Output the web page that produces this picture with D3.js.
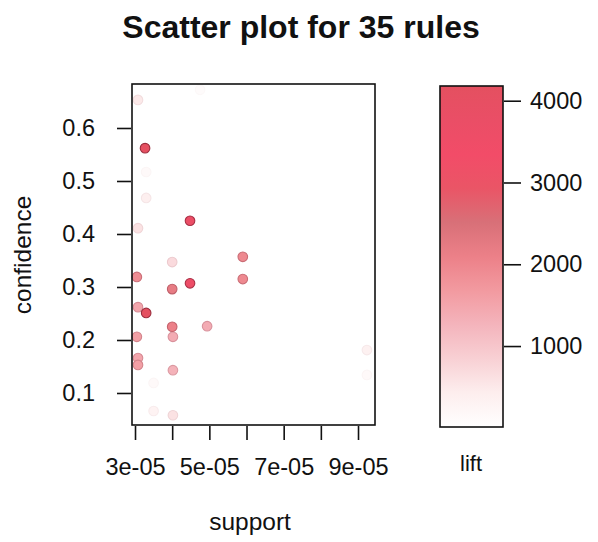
<!DOCTYPE html>
<html>
<head>
<meta charset="utf-8">
<script src="https://cdn.jsdelivr.net/npm/d3@7"></script>
<style>
  html, body { margin: 0; padding: 0; background: #fff; }
  svg { display: block; font-family: "Liberation Sans", Arial, sans-serif; }
</style>
</head>
<body>
<svg id="chart" width="598" height="542"></svg>
<script>
// Rules: support, confidence and lift of each of the 35 rules
const support = [
  3.08e-5, 4.75e-5, 3.27e-5, 3.30e-5, 3.30e-5, 3.08e-5, 4.48e-5, 5.90e-5, 4.00e-5,
  3.05e-5, 5.90e-5, 4.48e-5, 4.00e-5, 3.08e-5, 3.30e-5, 4.00e-5, 4.94e-5, 4.02e-5,
  3.05e-5, 3.08e-5, 3.08e-5, 4.02e-5, 3.50e-5, 3.50e-5, 4.02e-5, 9.24e-5, 9.24e-5,
  3.05e-5, 4.00e-5, 6.00e-5, 7.50e-5, 9.30e-5, 8.00e-5, 5.00e-5, 3.50e-5
];
const confidence = [
  0.653, 0.672, 0.562, 0.517, 0.468, 0.411, 0.425, 0.357, 0.347,
  0.319, 0.315, 0.307, 0.296, 0.262, 0.251, 0.225, 0.226, 0.206,
  0.206, 0.166, 0.153, 0.143, 0.119, 0.066, 0.058, 0.181, 0.134,
  0.500, 0.450, 0.200, 0.350, 0.300, 0.100, 0.600, 0.380
];
const lift = [
  500, 120, 4100, 150, 400, 600, 3700, 1950, 700,
  1900, 1950, 3600, 2200, 1500, 4150, 2100, 1400, 1400,
  1600, 1500, 1600, 1300, 150, 300, 600, 350, 150,
  15, 20, 12, 10, 18, 12, 14, 20
];
const xTicks = [3e-5, 4e-5, 5e-5, 6e-5, 7e-5, 8e-5, 9e-5];
const xTickLabels = ["3e-05", "5e-05", "7e-05", "9e-05"];
const yTicks = [0.1, 0.2, 0.3, 0.4, 0.5, 0.6];
const liftTicks = [1000, 2000, 3000, 4000];
const liftRange = [10, 4180];
// colour ramp of the lift legend, from low lift (0) to high lift (1)
const rampStops = [
  "#ffffff", "#fdeeee", "#f8d0d4", "#f4b4bc", "#f29aa0",
  "#ec8088", "#d87078", "#ea5566", "#f24c68", "#ea4e66", "#e45060"
];

const svg = d3.select("#chart");
const plot = { left: 132, right: 375, top: 84, bottom: 425 };

const x = d3.scaleLinear().domain([2.919e-5, 9.457e-5]).range([plot.left, plot.right]);
const y = d3.scaleLinear().domain([0.0396, 0.683]).range([plot.bottom, plot.top]);
const ramp = d3.scaleLinear()
  .domain(rampStops.map((_, i) => i / (rampStops.length - 1)))
  .range(rampStops)
  .interpolate(d3.interpolateRgb);
const liftNorm = d3.scaleLinear().domain(liftRange).range([0, 1]).clamp(true);
const colour = v => ramp(liftNorm(v));

// Title
svg.append("text")
  .attr("x", 301).attr("y", 38)
  .attr("text-anchor", "middle")
  .attr("font-size", 32).attr("font-weight", "bold")
  .attr("fill", "#111")
  .text("Scatter plot for 35 rules");

// Points, drawn from low to high lift so the strong rules sit on top
const rules = d3.range(support.length).map(i => ({ s: support[i], c: confidence[i], l: lift[i] }))
  .sort((a, b) => a.l - b.l);
svg.append("g").selectAll("circle").data(rules).join("circle")
  .attr("cx", d => x(d.s))
  .attr("cy", d => y(d.c))
  .attr("r", 4.8)
  .attr("fill", d => colour(d.l))
  .attr("stroke", d => d3.interpolateRgb(colour(d.l), "#400010")(0.45 * liftNorm(d.l)))
  .attr("stroke-width", 1.1);

// Plot frame
svg.append("rect")
  .attr("x", plot.left).attr("y", plot.top)
  .attr("width", plot.right - plot.left).attr("height", plot.bottom - plot.top)
  .attr("fill", "none").attr("stroke", "#111").attr("stroke-width", 1.6);

// x axis
const xAxis = d3.axisBottom(x).tickValues(xTicks).tickSize(14).tickSizeOuter(0)
  .tickFormat(d => {
    const lab = d3.format(".0e")(d).replace("e-5", "e-05");
    return xTickLabels.includes(lab) ? lab : "";
  });
const gx = svg.append("g").attr("transform", `translate(0,${plot.bottom + 1})`).call(xAxis);
gx.select(".domain").remove();
gx.selectAll(".tick line").attr("stroke", "#111").attr("stroke-width", 1.6);
gx.selectAll(".tick text").attr("font-size", 23.5).attr("fill", "#111").attr("dy", 0).attr("y", 49)
  .attr("font-family", "Liberation Sans, Arial, sans-serif");

// y axis
const yAxis = d3.axisLeft(y).tickValues(yTicks).tickSize(14).tickSizeOuter(0).tickFormat(d3.format(".1f"));
const gy = svg.append("g").attr("transform", `translate(${plot.left - 1},0)`).call(yAxis);
gy.select(".domain").remove();
gy.selectAll(".tick line").attr("stroke", "#111").attr("stroke-width", 1.6);
gy.selectAll(".tick text").attr("font-size", 23.5).attr("fill", "#111").attr("x", -36)
  .attr("font-family", "Liberation Sans, Arial, sans-serif");

// Axis titles
svg.append("text")
  .attr("x", 250).attr("y", 530).attr("text-anchor", "middle")
  .attr("font-size", 24.5).attr("fill", "#111").text("support");
svg.append("text")
  .attr("transform", "translate(31,255) rotate(-90)").attr("text-anchor", "middle")
  .attr("font-size", 24.5).attr("fill", "#111").text("confidence");

// Lift legend
const legend = { left: 440, right: 503, top: 86, bottom: 427 };
const ly = d3.scaleLinear().domain(liftRange).range([legend.bottom, legend.top]);
const defs = svg.append("defs");
const grad = defs.append("linearGradient").attr("id", "liftRamp")
  .attr("x1", 0).attr("y1", 1).attr("x2", 0).attr("y2", 0);
grad.selectAll("stop").data(rampStops).join("stop")
  .attr("offset", (_, i) => i / (rampStops.length - 1))
  .attr("stop-color", d => d);
svg.append("rect")
  .attr("x", legend.left).attr("y", legend.top)
  .attr("width", legend.right - legend.left).attr("height", legend.bottom - legend.top)
  .attr("fill", "url(#liftRamp)").attr("stroke", "#111").attr("stroke-width", 1.6);
const lAxis = d3.axisRight(ly).tickValues(liftTicks).tickSize(17).tickSizeOuter(0).tickFormat(d3.format("d"));
const gl = svg.append("g").attr("transform", `translate(${legend.right + 1},0)`).call(lAxis);
gl.select(".domain").remove();
gl.selectAll(".tick line").attr("stroke", "#111").attr("stroke-width", 1.6);
gl.selectAll(".tick text").attr("font-size", 23.5).attr("fill", "#111").attr("x", 26)
  .attr("font-family", "Liberation Sans, Arial, sans-serif");
svg.append("text")
  .attr("x", 471).attr("y", 471).attr("text-anchor", "middle")
  .attr("font-size", 22).attr("fill", "#111").text("lift");
</script>
</body>
</html>
